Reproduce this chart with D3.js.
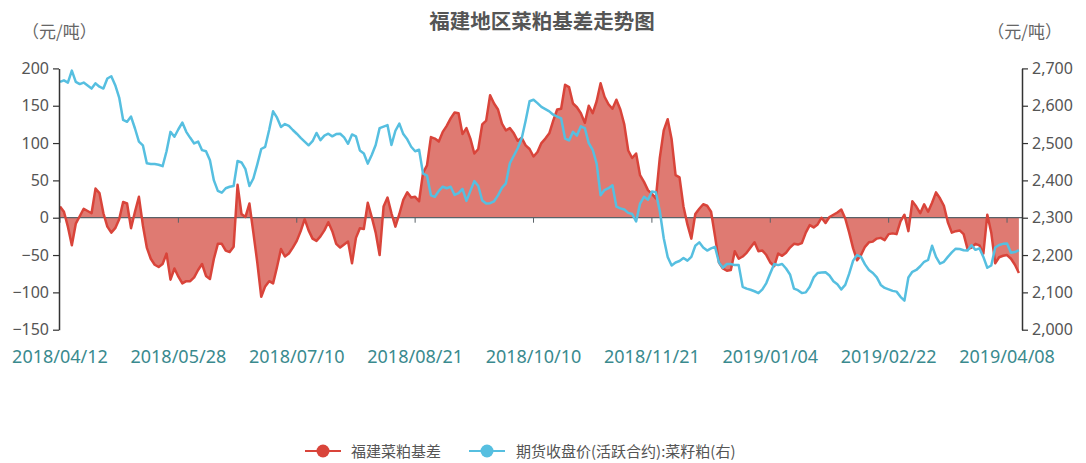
<!DOCTYPE html>
<html>
<head>
<meta charset="utf-8">
<script src="https://cdn.jsdelivr.net/npm/d3@7"></script>
<style>
  body { margin: 0; background: #fff; }
  text { font-family: "Noto Sans CJK SC", "Noto Sans", sans-serif; }
</style>
</head>
<body>
<script>
var width = 1086,
    height = 463;

// x axis labels, one every 30 trading days starting at index 0
var tickLabels = ["2018/04/12", "2018/05/28", "2018/07/10", "2018/08/21", "2018/10/10",
                  "2018/11/21", "2019/01/04", "2019/02/22", "2019/04/08"];
var tickStep = 30;

// 福建菜粕基差 (left axis)
var basis = [
  15, 8, -12, -37, -8, 2, 12, 9, 6, 39,
  33, 6, -12, -20, -14, -2, 21, 19, -14, 8,
  28, -10, -40, -55, -63, -66, -62, -48, -83, -68,
  -79, -88, -85, -85, -80, -70, -62, -78, -82, -55,
  -35, -35, -44, -46, -39, 44, 5, 1, 19, -20,
  -60, -106, -92, -85, -88, -66, -42, -52, -48, -40,
  -31, -18, -2, -17, -28, -31, -25, -17, -6, -18,
  -35, -40, -36, -32, -61, -27, -14, -15, 20, 1,
  -20, -50, 15, 27, 6, -12, 5, 24, 34, 27,
  28, 22, 60, 70, 108, 106, 102, 115, 123, 133,
  141, 140, 112, 120, 106, 86, 92, 125, 130, 164,
  153, 145, 126, 117, 120, 113, 103, 107, 97, 92,
  82, 88, 100, 106, 113, 130, 145, 146, 178, 175,
  153, 148, 140, 127, 150, 140, 156, 180, 162, 152,
  146, 158, 145, 125, 90, 80, 86, 57, 48, 37,
  32, 26, 80, 117, 132, 105, 57, 54, 15, -9,
  -28, 5, 12, 18, 16, 8, -25, -60, -68, -71,
  -70, -45, -55, -52, -47, -40, -33, -45, -44, -50,
  -60, -65, -48, -51, -47, -40, -35, -36, -34, -20,
  -10, -13, -9, 0, -7, 1, 4, 7, 11, -1,
  -20, -41, -57, -50, -39, -33, -32, -28, -27, -30,
  -22, -21, -22, -5, 4, -18, 22, 15, 6, 18,
  8, 20, 34, 26, 16, -6, -20, -18, -17, -22,
  -42, -40, -35, -37, -48, 4, -20, -61, -53, -51,
  -50, -55, -63, -74
];

// 期货收盘价(活跃合约):菜籽粕 (right axis)
var futures = [
  2664, 2668, 2662, 2694, 2664, 2658, 2662, 2654, 2646, 2660,
  2651, 2646, 2673, 2679, 2655, 2622, 2562, 2557, 2571, 2539,
  2504, 2494, 2446, 2444, 2444, 2442, 2438, 2478, 2530, 2517,
  2537, 2555, 2530, 2514, 2499, 2504, 2481, 2478, 2454, 2400,
  2372, 2367, 2379, 2383, 2385, 2452, 2448, 2430, 2385, 2405,
  2443, 2484, 2490, 2535, 2585, 2568, 2543, 2551, 2546, 2535,
  2525, 2514, 2504, 2494, 2505, 2527, 2508, 2520, 2525, 2518,
  2524, 2525, 2515, 2498, 2523, 2518, 2480, 2472, 2445, 2468,
  2495, 2540, 2544, 2548, 2495, 2533, 2552, 2524, 2510, 2490,
  2478, 2482, 2418, 2413, 2360, 2356, 2372, 2383, 2379, 2383,
  2361, 2366, 2377, 2345, 2372, 2398, 2385, 2346, 2338, 2339,
  2344, 2360, 2380, 2392, 2446, 2466, 2486, 2512, 2560, 2612,
  2616, 2607, 2597, 2591, 2585, 2576, 2571, 2566, 2512, 2507,
  2530, 2520, 2545, 2540, 2500, 2482, 2445, 2360, 2374, 2379,
  2387, 2330, 2325, 2322, 2313, 2310, 2290, 2338, 2356, 2348,
  2370, 2368, 2318, 2245, 2195, 2172, 2180, 2184, 2192, 2185,
  2195, 2225, 2234, 2220, 2212, 2218, 2222, 2180, 2166, 2176,
  2176, 2173, 2173, 2115, 2110, 2107, 2103, 2098, 2108, 2125,
  2151, 2176, 2173, 2176, 2164, 2148, 2110, 2106, 2098, 2100,
  2115, 2140, 2152, 2153, 2154, 2145, 2130, 2122, 2108, 2120,
  2150, 2185, 2200, 2195, 2175, 2160, 2152, 2140, 2120, 2112,
  2108, 2104, 2102, 2088, 2078, 2140, 2155, 2160, 2170, 2182,
  2187, 2225, 2195, 2177, 2182, 2195, 2207, 2217, 2216, 2213,
  2212, 2226, 2214, 2218, 2195, 2166, 2172, 2220, 2227, 2230,
  2231, 2206, 2208, 2213
];

var leftTicks = [-150, -100, -50, 0, 50, 100, 150, 200];
var rightTicks = [2000, 2100, 2200, 2300, 2400, 2500, 2600, 2700];

var seriesNames = ["福建菜粕基差", "期货收盘价(活跃合约):菜籽粕(右)"];
var seriesColors = ["#d9443a", "#56bfe0"];

// plot box (top is a reserved window name, so don't use it)
var plotLeft = 60, plotRight = 1022, plotTop = 68.4, plotBottom = 329.7;

var svg = d3.select("body")
    .append("svg")
    .attr("width", width)
    .attr("height", height);

var x = d3.scaleLinear()
    .domain([0, basis.length - 1])
    .range([plotLeft, plotLeft + (basis.length - 1) * 3.946]);
var yL = d3.scaleLinear().domain([-150, 200]).range([plotBottom, plotTop]);
var yR = d3.scaleLinear().domain([2000, 2700]).range([plotBottom, plotTop]);

// title + units
svg.append("text")
    .attr("x", 542).attr("y", 29)
    .attr("text-anchor", "middle")
    .attr("font-size", 20.5).attr("font-weight", "bold")
    .attr("fill", "#555")
    .text("福建地区菜粕基差走势图");
svg.append("text")
    .attr("x", 22).attr("y", 38)
    .attr("font-size", 17).attr("fill", "#666")
    .text("（元/吨）");
svg.append("text")
    .attr("x", 1062).attr("y", 38)
    .attr("text-anchor", "end")
    .attr("font-size", 17).attr("fill", "#666")
    .text("（元/吨）");

// basis area
var area = d3.area()
    .x((d, i) => x(i))
    .y0(yL(0))
    .y1(d => yL(d));
svg.append("path")
    .datum(basis)
    .attr("d", area)
    .attr("fill", "#df7a72");

// zero line / x axis
svg.append("line")
    .attr("x1", plotLeft).attr("x2", plotRight)
    .attr("y1", yL(0)).attr("y2", yL(0))
    .attr("stroke", "#5a6268").attr("stroke-width", 1.2);
svg.selectAll(".xtick")
    .data(tickLabels)
    .enter()
    .append("line")
    .attr("class", "xtick")
    .attr("x1", (d, i) => x(i * tickStep)).attr("x2", (d, i) => x(i * tickStep))
    .attr("y1", yL(0)).attr("y2", yL(0) + 5)
    .attr("stroke", "#5a6268");

var line = d3.line()
    .x((d, i) => x(i))
    .y(d => yL(d));
svg.append("path")
    .datum(basis)
    .attr("d", line)
    .attr("fill", "none")
    .attr("stroke", seriesColors[0])
    .attr("stroke-width", 2.5)
    .attr("stroke-linejoin", "round");

var line2 = d3.line()
    .x((d, i) => x(i))
    .y(d => yR(d));
svg.append("path")
    .datum(futures)
    .attr("d", line2)
    .attr("fill", "none")
    .attr("stroke", seriesColors[1])
    .attr("stroke-width", 2.5)
    .attr("stroke-linejoin", "round");

// axes
var gl = svg.append("g")
    .attr("transform", "translate(" + (plotLeft - 1) + ",0)")
    .call(d3.axisLeft(yL).tickValues(leftTicks).tickSize(6).tickSizeOuter(0).tickPadding(4));
var gr = svg.append("g")
    .attr("transform", "translate(" + plotRight + ",0)")
    .call(d3.axisRight(yR).tickValues(rightTicks).tickFormat(d3.format(",")).tickSize(6).tickSizeOuter(0).tickPadding(4));
[gl, gr].forEach(function(g) {
    g.select(".domain").attr("stroke", "#333").attr("stroke-width", 1.5);
    g.selectAll(".tick line").attr("stroke", "#333").attr("stroke-width", 1.2);
    g.selectAll(".tick text")
        .attr("font-size", 16)
        .attr("fill", "#555")
        .style("font-family", "'Noto Sans', sans-serif");
});

// x labels
svg.selectAll(".xlabel")
    .data(tickLabels)
    .enter()
    .append("text")
    .attr("class", "xlabel")
    .attr("x", (d, i) => x(i * tickStep))
    .attr("y", 363)
    .attr("text-anchor", "middle")
    .attr("font-size", 18)
    .attr("fill", "#3a8a8e")
    .style("font-family", "'Noto Sans', sans-serif")
    .text(d => d);

// legend
var legendX = [305, 469];
var legendTextX = [351, 516];
seriesNames.forEach(function(name, i) {
    var g = svg.append("g");
    g.append("line")
        .attr("x1", legendX[i]).attr("x2", legendX[i] + 36)
        .attr("y1", 451).attr("y2", 451)
        .attr("stroke", seriesColors[i]).attr("stroke-width", 2);
    g.append("circle")
        .attr("cx", legendX[i] + 18).attr("cy", 451).attr("r", 6.5)
        .attr("fill", seriesColors[i]);
    g.append("text")
        .attr("x", legendTextX[i]).attr("y", 457)
        .attr("font-size", 15)
        .attr("fill", "#555")
        .text(name);
});
</script>
</body>
</html>
